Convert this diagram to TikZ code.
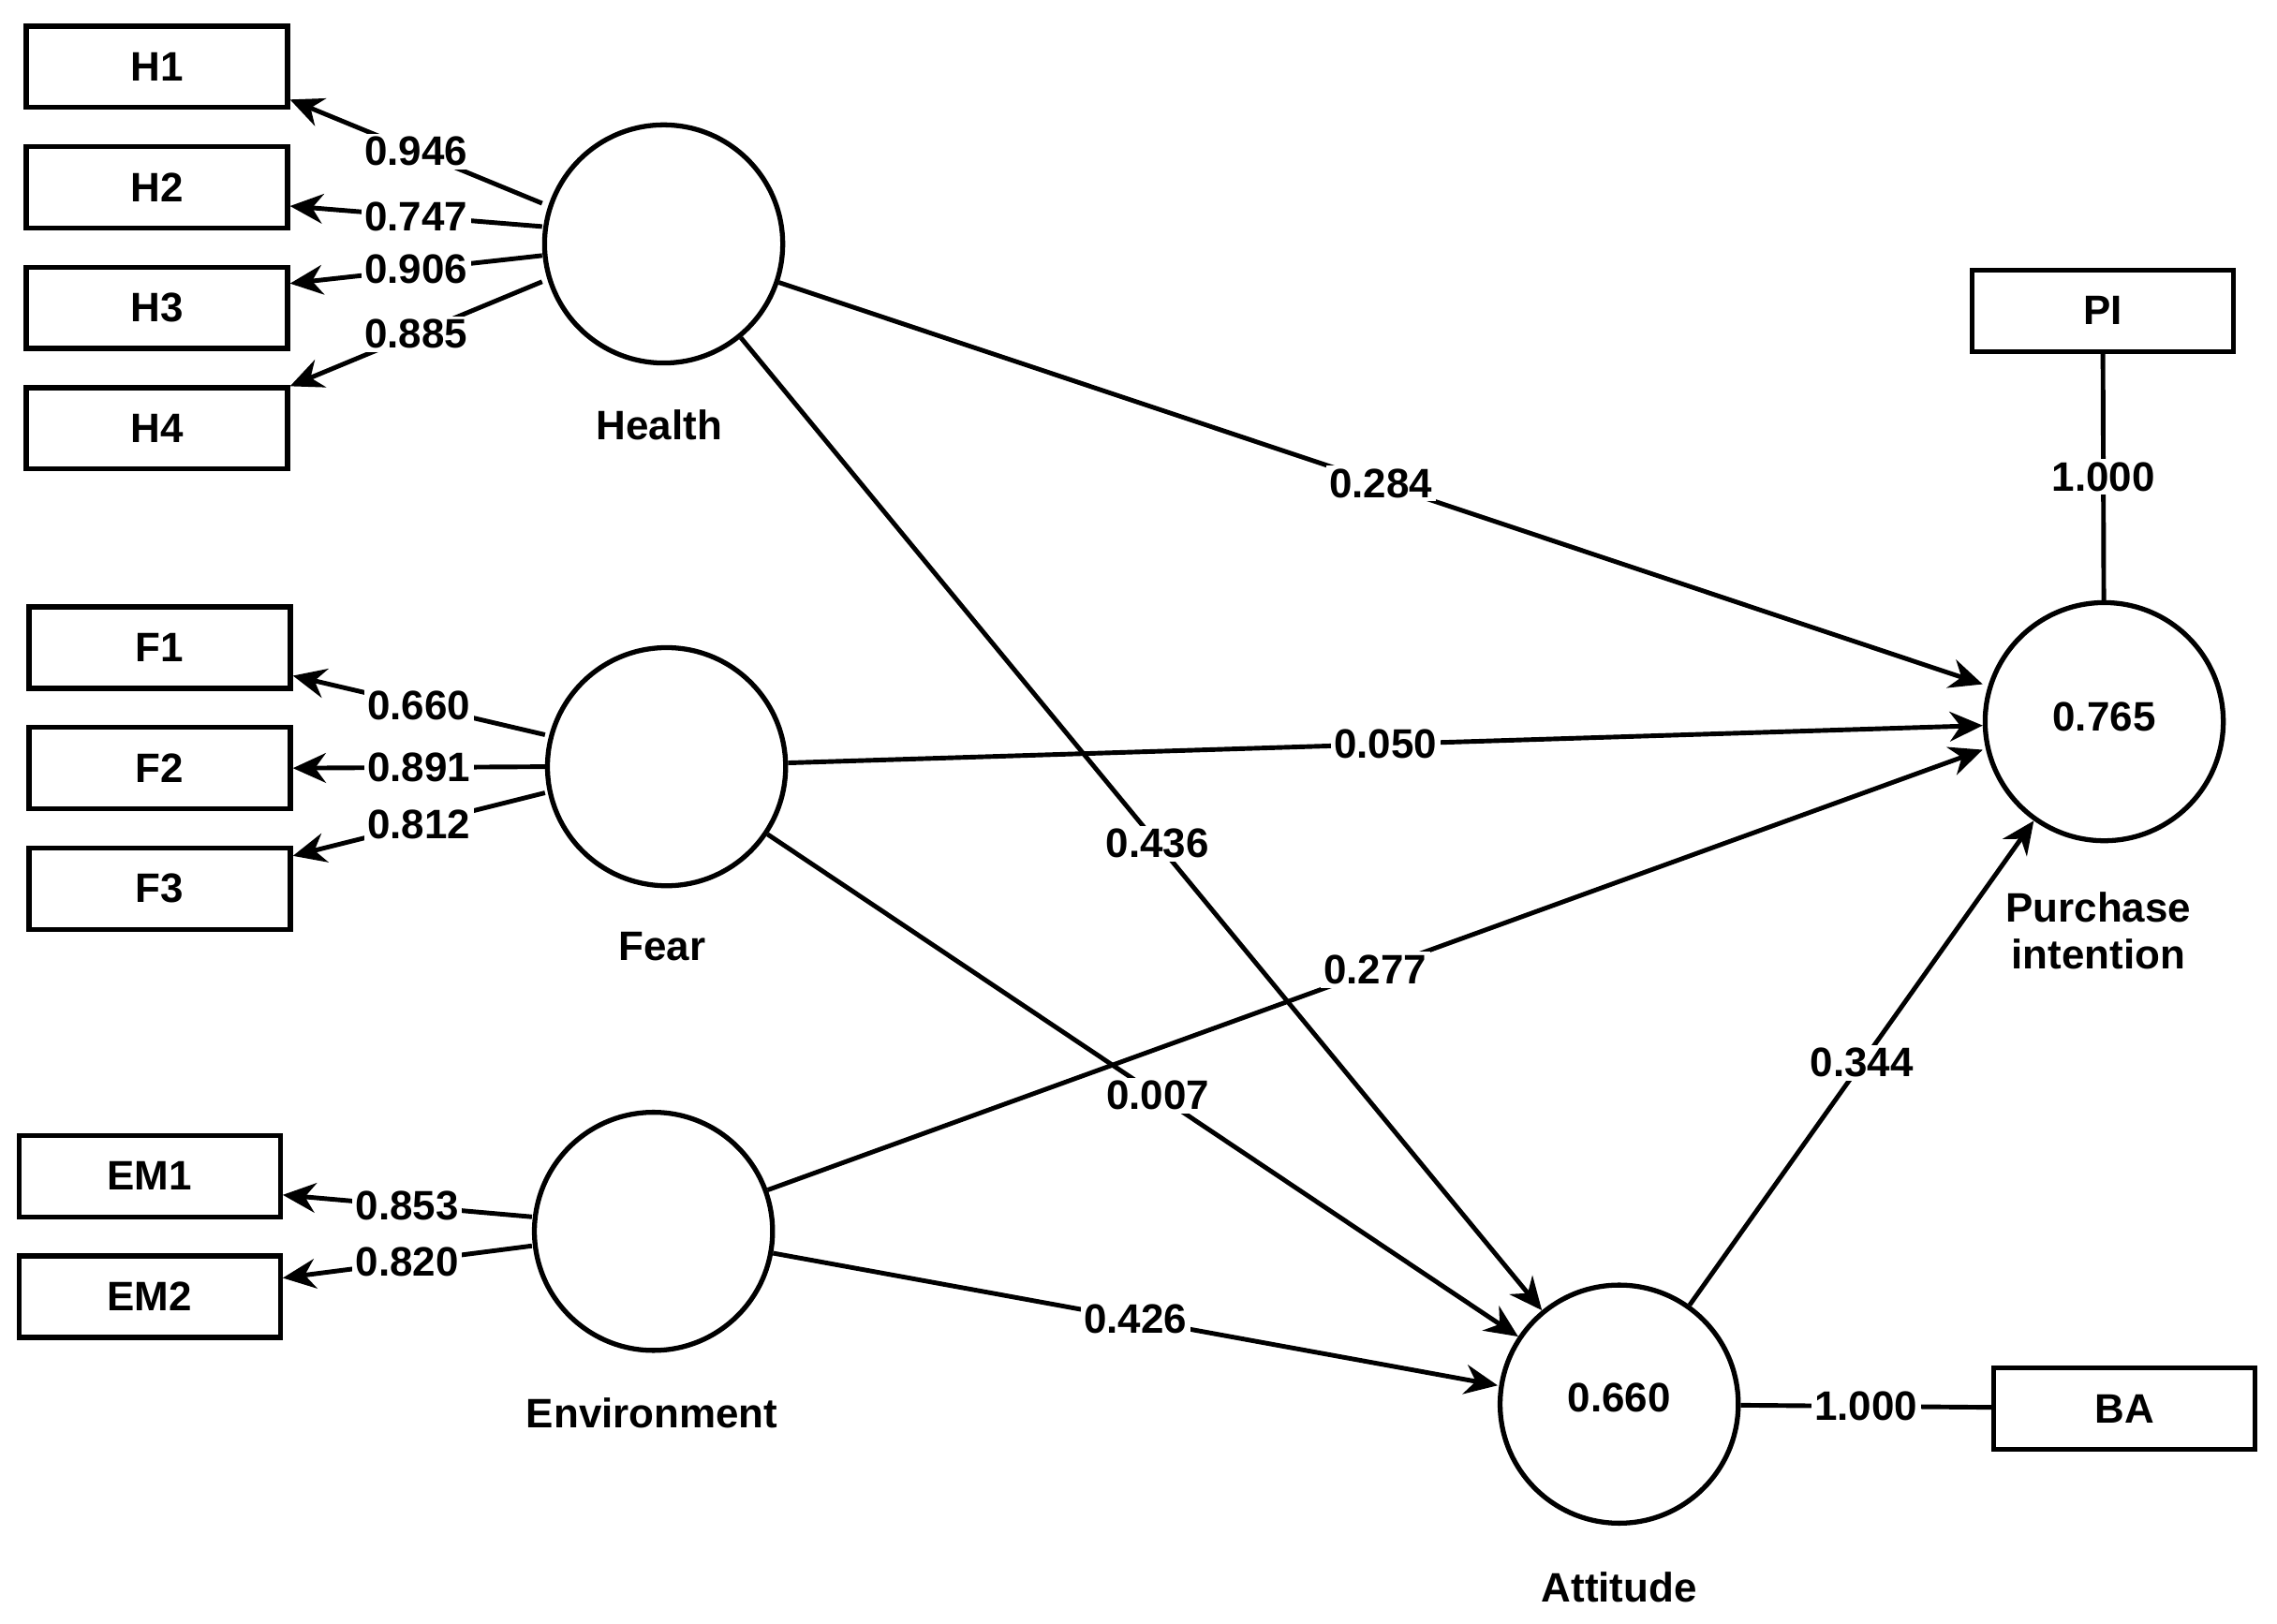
\documentclass[tikz,border=0pt]{standalone}
\usepackage{fontspec}
\setmainfont{Liberation Sans}
\usetikzlibrary{arrows.meta,calc}
\begin{document}
\begin{tikzpicture}[x=0.0155cm,y=-0.0155cm,
    every node/.style={font=\fontsize{12.5}{14}\selectfont\bfseries},
    item/.style={draw, line width=1.5pt, minimum width=180*0.0155cm, minimum height=56*0.0155cm, inner sep=0pt},
    latent/.style={circle, draw, line width=1.5pt, minimum size=164*0.0155cm, inner sep=0pt},
    path/.style={line width=1.4pt, -{Stealth[length=10pt,width=9pt]}},
    plain/.style={line width=1.4pt},
    lab/.style={fill=white, inner sep=1pt}]
    \useasboundingbox (0,0) rectangle (1568,1118);
    % indicators
    \node[item] (H1) at (108,46) {H1};
    \node[item] (H2) at (108,129) {H2};
    \node[item] (H3) at (108,212) {H3};
    \node[item] (H4) at (108,295) {H4};
    \node[item] (F1) at (110,446) {F1};
    \node[item] (F2) at (110,529) {F2};
    \node[item] (F3) at (110,612) {F3};
    \node[item] (EM1) at (103,810) {EM1};
    \node[item] (EM2) at (103,893) {EM2};
    \node[item] (PI) at (1448,214) {PI};
    \node[item] (BA) at (1463,970) {BA};

    % constructs
    \node[latent] (health) at (457,168) {};
    \node[latent] (fear) at (459,528) {};
    \node[latent] (env) at (450,848) {};
    \node[latent] (att) at (1115,967) {\raisebox{0.15cm}{0.660}};
    \node[latent] (pint) at (1449,497) {\raisebox{0.1cm}{0.765}};
    \node (lhealth) at (454,293) {Health};
    \node (lfear) at (456,652) {Fear};
    \node (lenv) at (449,973) {Environment};
    \node (latt) at (1115,1093) {Attitude};
    \node[align=center] (lpint) at (1445,641) {Purchase\\intention};

    % outer loadings
    \draw[path] (health.west) ++(0,-28) -- node[lab] {0.946} ([yshift=-0.35cm]H1.east);
    \draw[path] (health.west) ++(0,-12) -- node[lab] {0.747} ([yshift=-0.2cm]H2.east);
    \draw[path] (health.west) ++(0,8) -- node[lab] {0.906} ([yshift=0.26cm]H3.east);
    \draw[path] (health.west) ++(0,26) -- node[lab] {0.885} ([yshift=0.45cm]H4.east);
    \draw[path] (fear.west) ++(0,-22) -- node[lab] {0.660} ([yshift=-0.3cm]F1.east);
    \draw[path] (fear.west) -- node[lab] {0.891} (F2.east);
    \draw[path] (fear.west) ++(0,18) -- node[lab] {0.812} ([yshift=0.35cm]F3.east);
    \draw[path] (env.west) ++(0,-10) -- node[lab] {0.853} ([yshift=-0.2cm]EM1.east);
    \draw[path] (env.west) ++(0,10) -- node[lab] {0.820} ([yshift=0.2cm]EM2.east);
    \draw[plain] (PI) -- node[lab] {1.000} (pint);
    \draw[plain] (att) -- node[lab,pos=0.5] {1.000} (BA);

    % inner model
    \draw[path] (health) -- node[lab,pos=0.5] {0.284} ([yshift=0.4cm]pint.west);
    \draw[path] (health) -- node[lab,pos=0.52] {0.436} (att);
    \draw[path] (fear) -- node[lab,pos=0.5] {0.050} (pint);
    \draw[path] (fear) -- node[lab,pos=0.52] {0.007} (att);
    \draw[path] (env) -- node[lab,pos=0.5] {0.277} ([yshift=-0.3cm]pint.west);
    \draw[path] (env) -- node[lab,pos=0.5] {0.426} ([yshift=0.2cm]att.west);
    \draw[path] (att) -- node[lab,pos=0.5] {0.344} (pint);
\end{tikzpicture}
\end{document}
